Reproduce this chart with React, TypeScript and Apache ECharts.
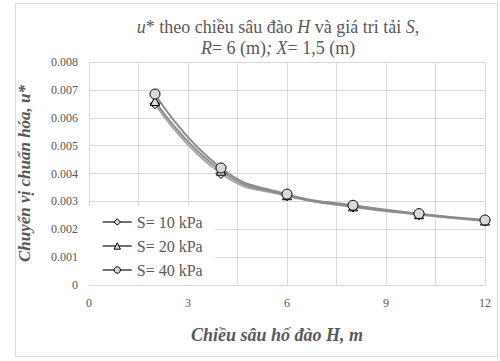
import React, { useEffect, useRef } from "react";
import * as echarts from "echarts";

const xValues = [2, 4, 6, 8, 10, 12];
const s10 = [0.0065, 0.004, 0.0032, 0.0028, 0.00252, 0.0023];
const s20 = [0.0066, 0.0041, 0.00322, 0.00282, 0.00254, 0.00231];
const s40 = [0.00685, 0.0042, 0.00326, 0.00286, 0.00256, 0.00233];
const seriesNames = ["S= 10 kPa", "S= 20 kPa", "S= 40 kPa"];
const yTicks = [0, 0.001, 0.002, 0.003, 0.004, 0.005, 0.006, 0.007, 0.008];

const FONT = "Liberation Serif";
const TXT = "#595959";

export default function App() {
  const ref = useRef<HTMLDivElement>(null);
  useEffect(() => {
    if (!ref.current) return;
    const chart = echarts.init(ref.current, undefined, { renderer: "svg" });
    const mk = (name: string, data: number[], symbol: string, size: number, color: string) => ({
      name,
      type: "line",
      smooth: true,
      data: xValues.map((x, i) => [x, data[i]]),
      symbol,
      symbolSize: size,
      lineStyle: { color, width: 2 },
      itemStyle: { color: "#d9d9d9", borderColor: "#000", borderWidth: 1 },
    });
    chart.setOption({
      animation: false,
      textStyle: { fontFamily: FONT },
      graphic: [
        {
          type: "rect",
          shape: { x: 15.5, y: 3.5, width: 482, height: 353 },
          style: { fill: "none", stroke: "#d9d9d9", lineWidth: 1 },
          silent: true,
        },
      ],
      title: {
        left: 273,
        textAlign: "center",
        top: 11,
        text: "{i|u}* theo chiều sâu đào {i|H} và giá tri tải {i|S},\n{i|R}= 6 (m){i|;} {i|X}= 1,5 (m)",
        textStyle: {
          fontFamily: FONT,
          fontSize: 18,
          fontWeight: "normal",
          color: TXT,
          lineHeight: 21,
          rich: {
            i: { fontFamily: FONT, fontSize: 18, fontStyle: "italic", color: TXT, lineHeight: 21 },
          },
        },
      },
      legend: {
        orient: "vertical",
        left: 89,
        top: 206,
        padding: [8, 12, 6, 13],
        backgroundColor: "#ffffff",
        itemWidth: 29,
        itemHeight: 8,
        itemGap: 8,
        data: seriesNames,
        lineStyle: { color: "#404040", width: 1.5 },
        itemStyle: { color: "#d9d9d9", borderColor: "#000", borderWidth: 1 },
        textStyle: { fontFamily: FONT, fontSize: 16, color: TXT },
      },
      grid: { left: 89, right: 15, top: 62, bottom: 76 },
      xAxis: {
        type: "value",
        min: 0,
        max: 12,
        interval: 1.5,
        name: "Chiều sâu hố đào H, m",
        nameLocation: "middle",
        nameGap: 41,
        nameTextStyle: {
          fontFamily: FONT,
          fontSize: 18,
          fontWeight: "bold",
          fontStyle: "italic",
          color: TXT,
          padding: [0, 0, 0, -20],
        },
        axisLine: { show: true, lineStyle: { color: "#d9d9d9" } },
        axisTick: { show: false },
        splitLine: { show: true, lineStyle: { color: "#d9d9d9" } },
        axisLabel: {
          margin: 12,
          fontFamily: FONT,
          fontSize: 12,
          color: TXT,
          formatter: (v: number) => (v % 3 === 0 ? String(v) : ""),
        },
      },
      yAxis: {
        type: "value",
        min: yTicks[0],
        max: yTicks[yTicks.length - 1],
        interval: 0.001,
        name: "Chuyển vị chuẩn hóa, u*",
        nameLocation: "middle",
        nameGap: 56,
        nameTextStyle: {
          fontFamily: FONT,
          fontSize: 17,
          fontWeight: "bold",
          fontStyle: "italic",
          color: TXT,
        },
        axisLine: { show: true, lineStyle: { color: "#d9d9d9" } },
        axisTick: { show: false },
        splitLine: { show: true, lineStyle: { color: "#d9d9d9" } },
        axisLabel: {
          margin: 11,
          fontFamily: FONT,
          fontSize: 12,
          color: TXT,
          formatter: (v: number) => (v === 0 ? "0" : v.toFixed(3)),
        },
      },
      series: [
        mk(seriesNames[0], s10, "diamond", 10, "#a6a6a6"),
        mk(seriesNames[1], s20, "triangle", 9, "#8c8c8c"),
        mk(seriesNames[2], s40, "circle", 10, "#8c8c8c"),
      ],
    });
    return () => chart.dispose();
  }, []);
  return (
    <div
      ref={ref}
      style={{ position: "fixed", left: 0, top: 0, width: 500, height: 361, background: "#fff" }}
    />
  );
}
